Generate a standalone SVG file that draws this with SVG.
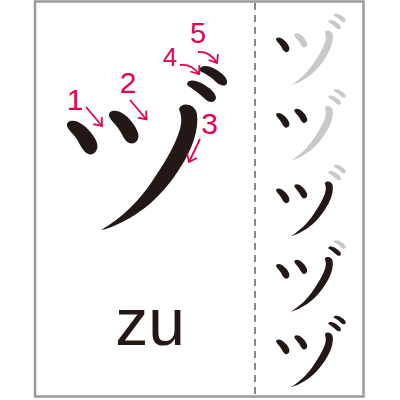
<svg xmlns="http://www.w3.org/2000/svg" xmlns:xlink="http://www.w3.org/1999/xlink" width="400" height="400" viewBox="0 0 400 400">
<style>
.k{fill:#231815}
.g{fill:#c9c9c9}
.num{font-family:"Liberation Sans",Arial,sans-serif;fill:#e5004f;text-anchor:middle}
.arr{fill:none;stroke:#e5004f;stroke-width:1.8;marker-end:url(#ah)}
</style>
<defs>
<marker id="ah" markerUnits="userSpaceOnUse" viewBox="-10 -7 12 14" markerWidth="12" markerHeight="14" refX="0" refY="0" orient="auto">
<path d="M-7,-5.5 L0,0 L-7,5.5" fill="none" stroke="#e5004f" stroke-width="1.8"/>
</marker>
<path id="s1" d="M67,126 C66,121 73,119 80,123 C87,127 95,136 97,143 C99,150 94,156 88,154 C84,152 81,147 78,141 C74,134 68,130 67,126 Z"/>
<path id="s2" d="M109,116 C108,111 115,109 122,113 C129,117 136,126 138,133 C140,140 135,145 129,143 C125,141 123,136 120,131 C116,124 110,120 109,116 Z"/>
<path id="s3" d="M179,109 C181,102 195,103 197,114 C199,130 192,150 180,168 C163,195 140,217 106,229 L101,230 C122,218 140,200 153,180 C168,158 179,138 181,124 C182,117 180,112 179,109 Z"/>
<path id="s4" d="M187,84 C188,79 196,80 203,84 C210,88 216,93 216,98 C215,103 209,103 205,99 C200,94 194,90 190,87 C188,86 187,85 187,84 Z"/>
<path id="s5" d="M199,70 C200,65 208,65 215,69 C222,73 228,78 227,83 C226,87 220,86 216,82 C211,77 206,74 202,72 C200,71 199,71 199,70 Z"/>
</defs>
<rect x="35" y="1.5" width="328.5" height="395" fill="#fff" stroke="#9a9a9a" stroke-width="2.5"/>
<line x1="255" y1="3" x2="255" y2="396" stroke="#8a8a8a" stroke-width="2" stroke-dasharray="7,5"/>
<g id="char-main">
<use href="#s1" class="k"/>
<use href="#s2" class="k"/>
<use href="#s3" class="k"/>
<use href="#s4" class="k"/>
<use href="#s5" class="k"/>
</g>
<g id="labels">
<text class="num" x="75" y="110" font-size="30">1</text>
<text class="num" x="128" y="93" font-size="30">2</text>
<text class="num" x="209.5" y="134" font-size="30">3</text>
<text class="num" x="170" y="65.5" font-size="26">4</text>
<text class="num" x="198" y="43" font-size="29">5</text>
</g>
<g id="connectors">
<path class="arr" d="M86,107 L102,126"/>
<path class="arr" d="M130,100 L146.5,119.5"/>
<path class="arr" d="M200,139 L189,162"/>
<path class="arr" d="M180,65 C187,64 194,67 199,74"/>
<path class="arr" d="M198,52 C205,51 212,55 217,63"/>
</g>
<g id="romaji">
<text x="150" y="345" font-family="Liberation Sans, Arial, sans-serif" font-size="66" fill="#231815" text-anchor="middle">zu</text>
</g>
<g id="row1" transform="translate(247,-15) scale(0.435)">
<use href="#s1" class="k"/><use href="#s2" class="g"/><use href="#s3" class="g"/><use href="#s4" class="g"/><use href="#s5" class="g"/>
</g>
<g id="row2" transform="translate(247,60.5) scale(0.435)">
<use href="#s1" class="k"/><use href="#s2" class="k"/><use href="#s3" class="g"/><use href="#s4" class="g"/><use href="#s5" class="g"/>
</g>
<g id="row3" transform="translate(247,136) scale(0.435)">
<use href="#s1" class="k"/><use href="#s2" class="k"/><use href="#s3" class="k"/><use href="#s4" class="g"/><use href="#s5" class="g"/>
</g>
<g id="row4" transform="translate(247,211.5) scale(0.435)">
<use href="#s1" class="k"/><use href="#s2" class="k"/><use href="#s3" class="k"/><use href="#s4" class="k"/><use href="#s5" class="g"/>
</g>
<g id="row5" transform="translate(247,287) scale(0.435)">
<use href="#s1" class="k"/><use href="#s2" class="k"/><use href="#s3" class="k"/><use href="#s4" class="k"/><use href="#s5" class="k"/>
</g>
</svg>
